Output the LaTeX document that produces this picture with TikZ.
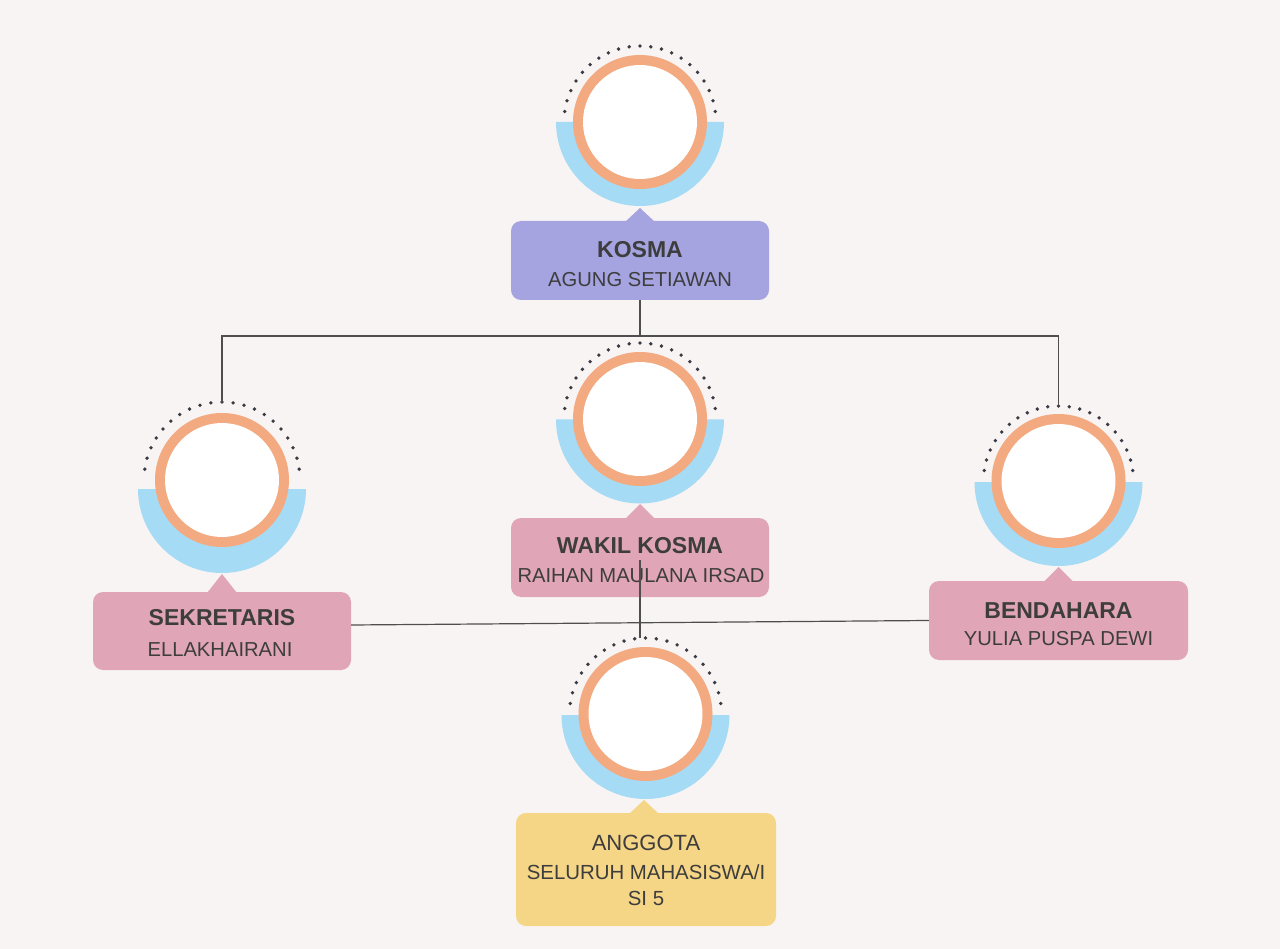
\documentclass[tikz,border=0pt]{standalone}
\usepackage{fontspec}
\setmainfont{Liberation Sans}
\definecolor{bgc}{HTML}{F8F4F3}
\definecolor{bluec}{HTML}{A6DBF5}
\definecolor{orangec}{HTML}{F3AA80}
\definecolor{lavc}{HTML}{A5A3E0}
\definecolor{pinkc}{HTML}{E0A5B7}
\definecolor{yellowc}{HTML}{F5D586}
\definecolor{dotc}{HTML}{3A3A44}
\definecolor{txtc}{HTML}{3D3D3D}
\definecolor{linec}{HTML}{4E4E4E}
\newcommand\orgpic[5]{% x, orange y, blue y, name, dot radius
  \fill[bluec] ({#1-84},#3) arc[start angle=180,end angle=360,radius=84pt] -- cycle;
  \fill[orangec] (#1,#2) circle[radius=67pt];
  \fill[white] (#1,#2) circle[radius=57pt];
  \foreach \i in {0,...,20}{
    \pgfmathsetmacro\ang{8+\i*8.2}
    \fill[dotc] (#1,#2) ++(\ang:#5 pt) circle[radius=1.9pt];
  }
  \coordinate (#4top) at (#1,{#2-#5});
}
\newcommand\pointer[4]{% x, apex y, base y, colour
  \fill[#4] ({#1-15},{#3+1}) -- (#1,#2) -- ({#1+15},{#3+1}) -- cycle;
}
\tikzset{
  card/.style={rectangle, rounded corners=10pt, inner sep=0pt, draw=none},
  titletxt/.style={inner sep=0pt, text=txtc, font=\fontsize{23}{26}\selectfont\bfseries, text height=16.5pt, text depth=0pt},
  nametxt/.style={inner sep=0pt, text=txtc, font=\fontsize{20.2}{23}\selectfont, text height=14.5pt, text depth=0pt},
  link/.style={draw=linec, line width=1.2pt},
}
\begin{document}
\begin{tikzpicture}[x=1pt,y=-1pt]
\useasboundingbox (0,0) rectangle (1280,949);
\fill[bgc] (0,0) rectangle (1280,949);

% KOSMA
\orgpic{640}{122}{122}{kosma}{76}
\node[card, fill=lavc, minimum width=258pt, minimum height=79pt] (kosma) at (640,260.5) {};
\pointer{640}{208}{221}{lavc}
\node[titletxt] (kosmaT) at (640,249) {KOSMA};
\node[nametxt] (kosmaN) at (640,279) {AGUNG SETIAWAN};

% WAKIL KOSMA
\orgpic{640}{419}{419.5}{wakil}{76}
\node[card, fill=pinkc, minimum width=258pt, minimum height=79pt] (wakil) at (640,557.5) {};
\pointer{640}{504}{518}{pinkc}
\node[titletxt] (wakilT) at (640,545) {WAKIL KOSMA};
\node[nametxt] (wakilN) at (641,575) {RAIHAN MAULANA IRSAD};

% SEKRETARIS
\orgpic{222}{480}{489}{sek}{78}
\node[card, fill=pinkc, minimum width=258pt, minimum height=78pt] (sek) at (222,631) {};
\pointer{222}{574}{592}{pinkc}
\node[titletxt] (sekT) at (222,617.5) {SEKRETARIS};
\node[nametxt] (sekN) at (220,649) {ELLAKHAIRANI};

% BENDAHARA
\orgpic{1058.5}{481}{482}{ben}{75}
\node[card, fill=pinkc, minimum width=259pt, minimum height=79pt] (ben) at (1058.5,620.5) {};
\pointer{1058.5}{567}{581}{pinkc}
\node[titletxt] (benT) at (1058.5,610) {BENDAHARA};
\node[nametxt] (benN) at (1058.5,638) {YULIA PUSPA DEWI};

% ANGGOTA
\orgpic{645.5}{714}{715}{ang}{76}
\node[card, fill=yellowc, minimum width=260pt, minimum height=113pt] (ang) at (646,869.5) {};
\pointer{644}{800}{813}{yellowc}
\node[nametxt, font=\fontsize{22}{26}\selectfont, text height=16pt] (angT) at (646,842) {ANGGOTA};
\node[nametxt, font=\fontsize{20.4}{24}\selectfont] (angN) at (646,872.5) {SELURUH MAHASISWA/I};
\node[nametxt, font=\fontsize{20.4}{24}\selectfont] (angC) at (646,898) {SI 5};

% connectors
\coordinate (trunk) at (640,336);
\coordinate (wakilLine) at (640,560);
\coordinate (angLine) at (640,638);
\draw[link] (kosma.south) -- (trunk);
\draw[link] (sektop) |- (trunk) -| (bentop);
\draw[link] (wakilLine) -- (angLine);
\draw[link] ([yshift=6pt]sek.east) -- (ben.west);
\end{tikzpicture}
\end{document}
